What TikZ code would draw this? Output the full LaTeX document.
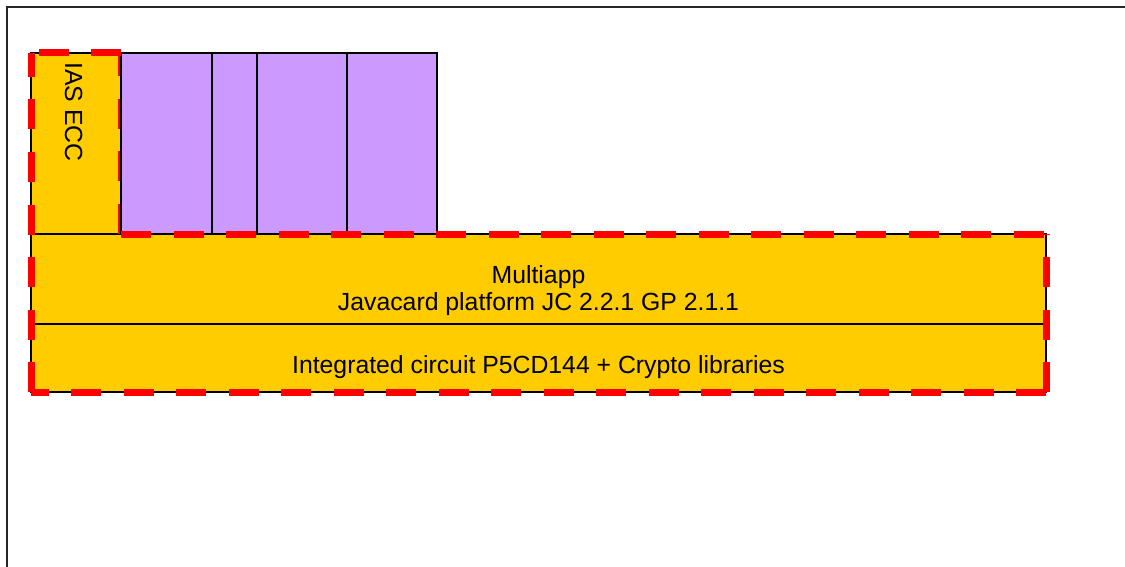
\documentclass[tikz,border=0pt]{standalone}
\usepackage{fontspec}
\setmainfont{Liberation Sans}
\definecolor{cardyellow}{HTML}{FFCC00}
\definecolor{appletpurple}{HTML}{CC99FF}

\begin{document}
\begin{tikzpicture}[x=1pt, y=-1pt,
        card/.style={draw=black, line width=1.2pt, fill=cardyellow},
        applet/.style={draw=black, line width=1.2pt, fill=appletpurple},
        toe/.style={draw=red, line width=7pt, dash pattern=on 30pt off 22.5pt},
        lbl/.style={font=\fontsize{24.8}{28}\selectfont, inner sep=0pt}]
        \useasboundingbox (0,0) rectangle (1125,567);
        \clip (0,0) rectangle (1125,567);
        \draw[line width=2pt, black!85] (7,600) -- (7,7) -- (1160,7);

        % corners of the TOE boundary
        \coordinate (tl) at (31,53);
        \coordinate (tm) at (121,53);
        \coordinate (mm) at (121,234);
        \coordinate (mr) at (1046,234);
        \coordinate (br) at (1046,392);
        \coordinate (bl) at (31,392);

        % platform layers
        \draw[card] (31,234) rectangle (1046,324);
        \draw[card] (31,324) rectangle (1046,392);
        \node[lbl, anchor=base] (multiapp) at (538.5,283) {Multiapp};
        \node[lbl, anchor=base] (javacard) at (538.5,310) {Javacard platform JC 2.2.1 GP 2.1.1};
        \node[lbl, anchor=base] (chip) at (538.5,373) {Integrated circuit P5CD144 + Crypto libraries};

        % applets
        \draw[card] (tl) rectangle (mm);
        \node[lbl, anchor=base west, rotate=-90] (iasecc) at (65,62) {IAS ECC};
        \draw[toe] (mm) -- (tm);
        \foreach \xa/\xb in {121/212, 212/257, 257/347, 347/437}
            \draw[applet] (\xa,53) rectangle (\xb,234);

        % TOE boundary
        \foreach \from/\to in {tm/tl, bl/tl, br/bl, br/mr, mm/mr}
            \draw[toe] (\from) -- (\to);
\end{tikzpicture}
\end{document}
